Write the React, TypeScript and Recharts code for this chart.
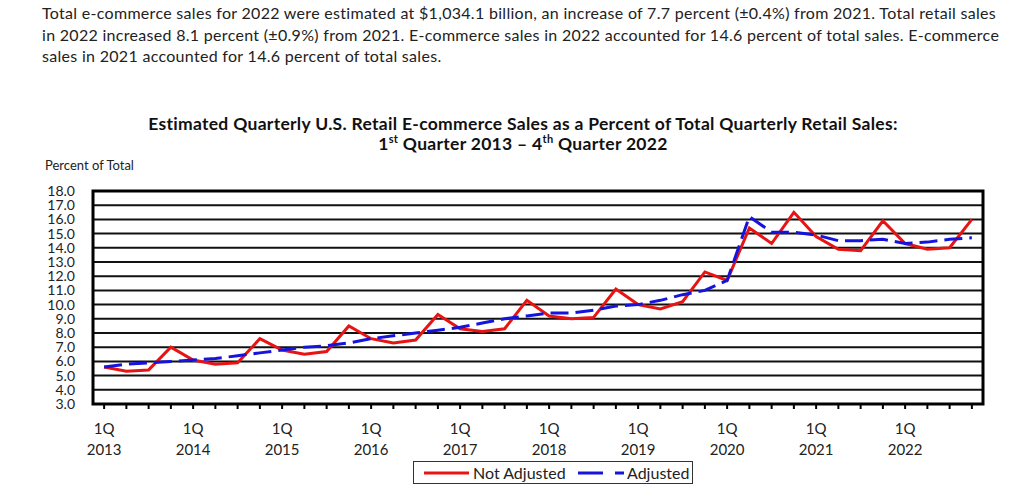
import React from 'react';
import { LineChart, Line, XAxis, YAxis, CartesianGrid, ReferenceArea } from 'recharts';

const quarters: string[] = [];
['2013', '2014', '2015', '2016', '2017', '2018', '2019', '2020', '2021', '2022'].forEach((y) => {
  ['1Q', '2Q', '3Q', '4Q'].forEach((q) => quarters.push(q + ' ' + y));
});

const notAdjusted = [
  5.6, 5.3, 5.4, 7.0,
  6.1, 5.8, 5.9, 7.6,
  6.8, 6.5, 6.7, 8.5,
  7.6, 7.3, 7.5, 9.3,
  8.3, 8.1, 8.3, 10.3,
  9.2, 9.0, 9.1, 11.1,
  10.0, 9.7, 10.2, 12.3,
  11.7, 15.4, 14.3, 16.5,
  14.8, 13.9, 13.8, 15.9,
  14.3, 13.9, 14.0, 16.0,
];

const adjusted = [
  5.6, 5.8, 5.9, 6.0,
  6.1, 6.2, 6.4, 6.6,
  6.8, 7.0, 7.1, 7.3,
  7.6, 7.8, 8.0, 8.2,
  8.4, 8.7, 9.0, 9.2,
  9.4, 9.4, 9.6, 9.9,
  10.0, 10.3, 10.7, 11.0,
  11.7, 16.2, 15.1, 15.1,
  14.9, 14.5, 14.5, 14.6,
  14.3, 14.4, 14.6, 14.7,
];

const yTicks = [3, 4, 5, 6, 7, 8, 9, 10, 11, 12, 13, 14, 15, 16, 17, 18];

const data = quarters.map((q, i) => ({ q, nsa: notAdjusted[i], sa: adjusted[i] }));

const FONT = 'Lato, "Open Sans", sans-serif';
const RED = '#e81414';
const BLUE = '#1414dc';

const XTick = (props: any) => {
  const { x, y, payload } = props;
  const label: string = payload.value;
  if (!label.startsWith('1Q')) return null;
  const [q, yr] = label.split(' ');
  return (
    <g>
      <text x={x} y={y + 25} textAnchor="middle" fill="#222" fontSize={15} fontFamily={FONT}>{q}</text>
      <text x={x} y={y + 46} textAnchor="middle" fill="#222" fontSize={15} fontFamily={FONT}>{yr}</text>
    </g>
  );
};

const paraLines = [
  'Total e-commerce sales for 2022 were estimated at $1,034.1 billion, an increase of 7.7 percent (\u00b10.4%) from 2021. Total retail sales',
  'in 2022 increased 8.1 percent (\u00b10.9%) from 2021. E-commerce sales in 2022 accounted for 14.6 percent of total sales. E-commerce',
  'sales in 2021 accounted for 14.6 percent of total sales.',
];

export default function App() {
  return (
    <div style={{ position: 'absolute', left: 0, top: 0, width: 1024, height: 498, background: '#fff', fontFamily: FONT, color: '#222' }}>
      {paraLines.map((t, i) => (
        <div key={i} style={{ position: 'absolute', left: 42, top: 3 + i * 21.5, fontSize: 16, letterSpacing: 0.3, lineHeight: '20px', whiteSpace: 'nowrap' }}>{t}</div>
      ))}
      <div style={{ position: 'absolute', left: 0, width: 1046, top: 113, textAlign: 'center', fontWeight: 700, fontSize: 17.5, letterSpacing: 0.3, lineHeight: '22px', color: '#111', whiteSpace: 'nowrap' }}>
        Estimated Quarterly U.S. Retail E-commerce Sales as a Percent of Total Quarterly Retail Sales:
      </div>
      <div style={{ position: 'absolute', left: 0, width: 1046, top: 133, textAlign: 'center', fontWeight: 700, fontSize: 17.5, letterSpacing: 0.3, lineHeight: '22px', color: '#111', whiteSpace: 'nowrap' }}>
        1<sup style={{ fontSize: 11, lineHeight: 0 }}>st</sup> Quarter 2013 – 4<sup style={{ fontSize: 11, lineHeight: 0 }}>th</sup> Quarter 2022
      </div>
      <div style={{ position: 'absolute', left: 45, top: 157, fontSize: 13, lineHeight: '16px', color: '#222' }}>Percent of Total</div>

      <div style={{ position: 'absolute', left: 0, top: 0 }}>
        <LineChart width={1024} height={498} data={data} margin={{ top: 191, right: 41, bottom: 54, left: 43 }}>
          <CartesianGrid horizontal vertical={false} stroke="#111" strokeWidth={2} />
          <XAxis
            dataKey="q"
            scale="band"
            interval={0}
            height={40}
            axisLine={false}
            tickLine={{ stroke: '#000', strokeWidth: 2 }}
            tickSize={5}
            tickMargin={0}
            tick={<XTick />}
          />
          <YAxis
            domain={[3, 18]}
            ticks={yTicks}
            interval={0}
            width={50}
            axisLine={false}
            tickLine={false}
            tickSize={0}
            tickMargin={18}
            tick={{ fill: '#222', fontSize: 14, fontFamily: FONT }}
            tickFormatter={(v: number) => v.toFixed(1)}
          />
          <ReferenceArea y1={3} y2={18} fill="none" fillOpacity={0} stroke="#000" strokeWidth={3} ifOverflow="visible" />
          <Line type="linear" dataKey="nsa" name="Not Adjusted" stroke={RED} strokeWidth={3} dot={false} isAnimationActive={false} />
          <Line type="linear" dataKey="sa" name="Adjusted" stroke={BLUE} strokeWidth={3} strokeDasharray="18 7" dot={false} isAnimationActive={false} />
        </LineChart>
      </div>

      <div style={{ position: 'absolute', left: 413, top: 461, width: 280, height: 23, border: '1px solid #333', boxSizing: 'border-box', background: '#fff' }}>
        <svg width={280} height={23} style={{ position: 'absolute', left: 0, top: 0 }}>
          <line x1={10} y1={11} x2={55} y2={11} stroke={RED} strokeWidth={3} />
          <text x={59} y={16.5} fontSize={16} fontFamily={FONT} fill="#222">Not Adjusted</text>
          <line x1={164} y1={11} x2={189} y2={11} stroke={BLUE} strokeWidth={3} />
          <line x1={201} y1={11} x2={210} y2={11} stroke={BLUE} strokeWidth={3} />
          <text x={213} y={16.5} fontSize={16} fontFamily={FONT} fill="#222">Adjusted</text>
        </svg>
      </div>
    </div>
  );
}
